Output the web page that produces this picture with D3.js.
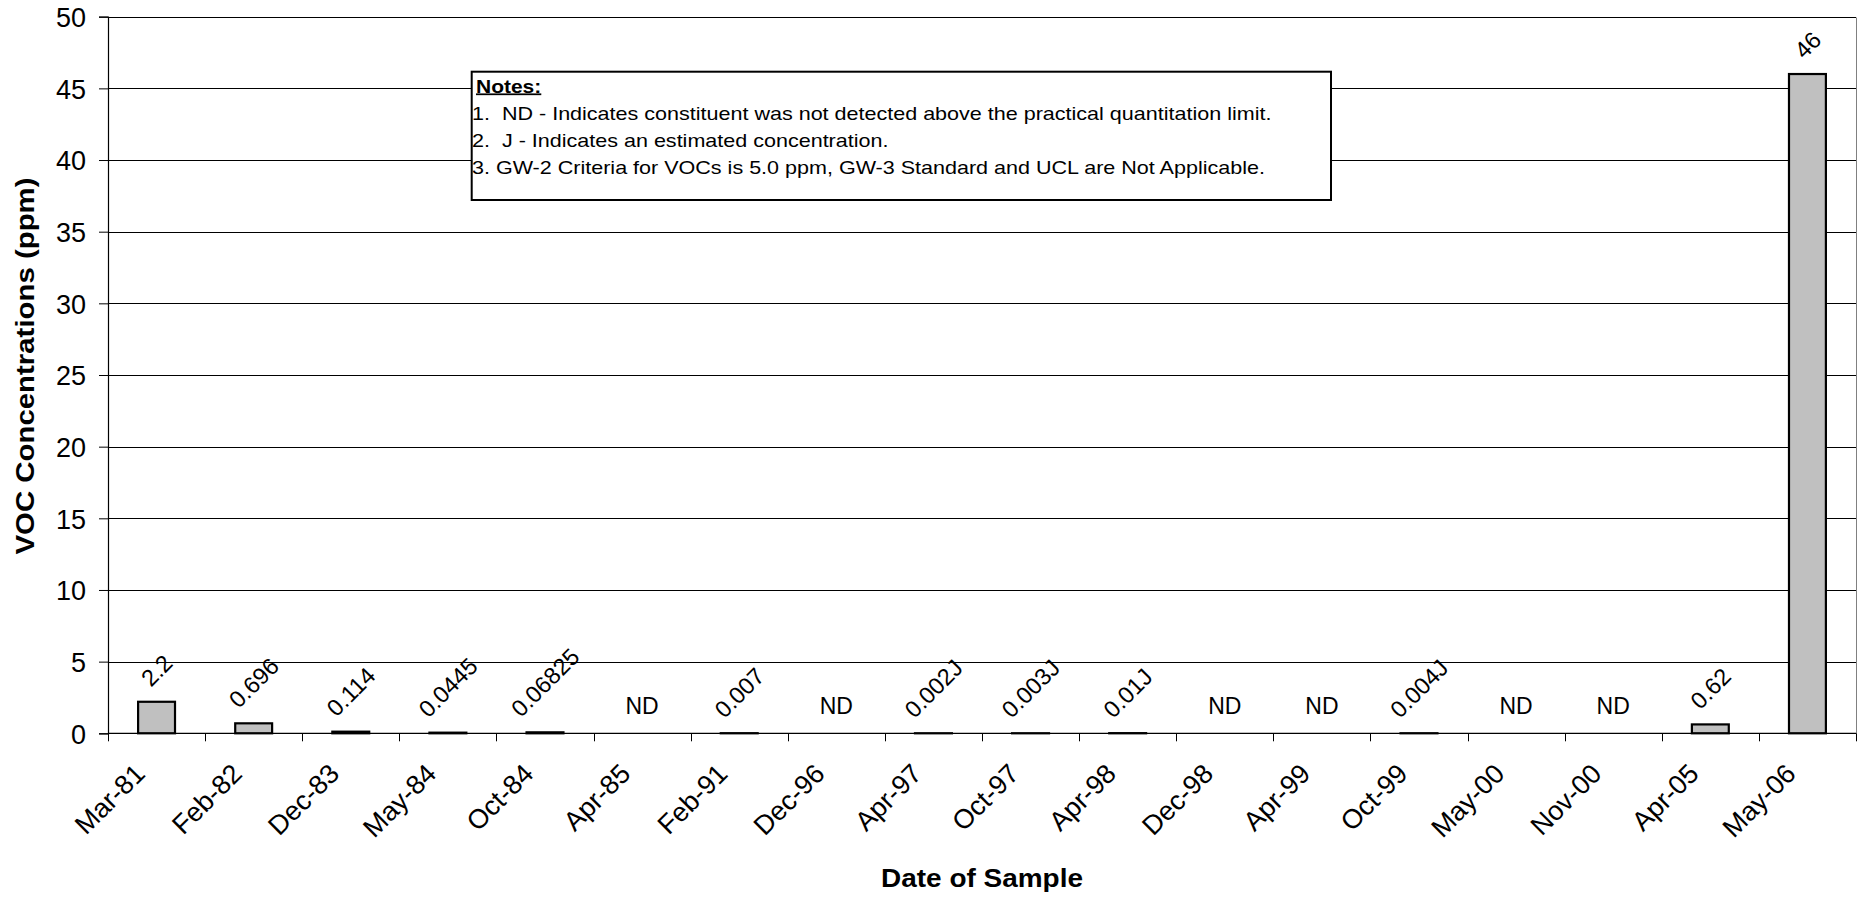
<!DOCTYPE html>
<html>
<head>
<meta charset="utf-8">
<script src="https://cdn.jsdelivr.net/npm/d3@7/dist/d3.min.js"></script>
<style>
  html, body { margin: 0; padding: 0; background: #fff; }
  svg { display: block; }
  text { font-family: "Liberation Sans", Arial, sans-serif; fill: #000; }
</style>
</head>
<body>
<svg id="chart" width="1862" height="897"></svg>
<script>
// ---- data ----
const categories = ["Mar-81","Feb-82","Dec-83","May-84","Oct-84","Apr-85","Feb-91","Dec-96","Apr-97","Oct-97","Apr-98","Dec-98","Apr-99","Oct-99","May-00","Nov-00","Apr-05","May-06"];
const values = [2.2, 0.696, 0.114, 0.0445, 0.06825, null, 0.007, null, 0.002, 0.003, 0.01, null, null, 0.004, null, null, 0.62, 46];
const valueLabels = ["2.2","0.696","0.114","0.0445","0.06825","ND","0.007","ND","0.002J","0.003J","0.01J","ND","ND","0.004J","ND","ND","0.62","46"];
const yTicks = [0,5,10,15,20,25,30,35,40,45,50];
const notes = [
  "1.  ND - Indicates constituent was not detected above the practical quantitation limit.",
  "2.  J - Indicates an estimated concentration.",
  "3. GW-2 Criteria for VOCs is 5.0 ppm, GW-3 Standard and UCL are Not Applicable."
];

// ---- layout ----
const pLeft = 108, pRight = 1856, pTop = 16.7, pBottom = 733.3;
const svg = d3.select("#chart");

const x = d3.scaleBand().domain(categories).range([pLeft, pRight]).padding(0);
const y = d3.scaleLinear().domain([0, 50]).range([pBottom, pTop]);

// gridlines
svg.append("g").selectAll("line").data(yTicks.filter(d => d > 0)).join("line")
  .attr("x1", pLeft).attr("x2", pRight)
  .attr("y1", d => Math.round(y(d)) + 0.5).attr("y2", d => Math.round(y(d)) + 0.5)
  .attr("stroke", "#000").attr("stroke-width", 1);

// right border of plot area
svg.append("line").attr("x1", pRight + 0.5).attr("x2", pRight + 0.5)
  .attr("y1", Math.round(pTop) + 0.5).attr("y2", Math.round(pBottom) + 0.5)
  .attr("stroke", "#808080").attr("stroke-width", 1);

// y axis
const yAxis = d3.axisLeft(y).tickValues(yTicks).tickSize(9).tickPadding(13).tickFormat(d3.format("d"));
const gy = svg.append("g").attr("transform", `translate(${pLeft},0)`).call(yAxis);
gy.select(".domain").attr("stroke", "#000").attr("stroke-width", 1.2);
gy.selectAll(".tick line").attr("stroke", "#000");
gy.selectAll(".tick text").attr("font-size", 27).attr("dy", "0.36em")
  .style("font-family", '"Liberation Sans", Arial, sans-serif');

// bars
const bw = x.bandwidth() * 0.38;
svg.append("g").selectAll("rect").data(values.map((v, i) => ({v, c: categories[i]})).filter(d => d.v !== null))
  .join("rect")
  .attr("x", d => x(d.c) + x.bandwidth() / 2 - bw / 2)
  .attr("y", d => y(d.v))
  .attr("width", bw)
  .attr("height", d => y(0) - y(d.v))
  .attr("fill", "#C0C0C0").attr("stroke", "#000").attr("stroke-width", 2.2);

// x axis line and ticks
svg.append("line").attr("x1", pLeft).attr("x2", pRight)
  .attr("y1", pBottom).attr("y2", pBottom).attr("stroke", "#000").attr("stroke-width", 1.2);
const bounds = categories.map(c => x(c)).concat([pRight]);
svg.append("g").selectAll("line").data(bounds).join("line")
  .attr("x1", d => Math.round(d) + 0.5).attr("x2", d => Math.round(d) + 0.5)
  .attr("y1", pBottom).attr("y2", pBottom + 8)
  .attr("stroke", "#000").attr("stroke-width", 1);

// x tick labels (rotated)
svg.append("g").selectAll("text").data(categories).join("text")
  .attr("transform", c => `translate(${x(c) + x.bandwidth() / 2 - 10},${pBottom + 42}) rotate(-45)`)
  .attr("text-anchor", "end")
  .attr("font-size", 27)
  .text(c => c);

// value labels
const lblG = svg.append("g");
values.forEach((v, i) => {
  const cx = x(categories[i]) + x.bandwidth() / 2;
  if (v === null) {
    lblG.append("text").attr("x", cx).attr("y", pBottom - 19.5)
      .attr("text-anchor", "middle").attr("font-size", 23).text(valueLabels[i]);
  } else {
    const t = lblG.append("text").attr("text-anchor", "middle").attr("font-size", 23.5)
      .attr("dy", "0.36em").text(valueLabels[i]);
    const L = t.node().getComputedTextLength();
    const h = 0.716 * 23.5;
    const bh = (L + h) / Math.SQRT2;
    const cy = y(v) - 1 - 13 - bh / 2;
    t.attr("transform", `translate(${cx},${cy}) rotate(-45)`);
  }
});

// axis titles
svg.append("text").attr("x", 982).attr("y", 887).attr("text-anchor", "middle")
  .attr("font-size", 26).attr("font-weight", "bold")
  .attr("textLength", 202).attr("lengthAdjust", "spacingAndGlyphs")
  .text("Date of Sample");
svg.append("text").attr("transform", "translate(33.5,366) rotate(-90)").attr("text-anchor", "middle")
  .attr("font-size", 26).attr("font-weight", "bold")
  .attr("textLength", 377).attr("lengthAdjust", "spacingAndGlyphs")
  .text("VOC Concentrations (ppm)");

// notes box
const bx = 471.7, by = 71.7, bxw = 1331 - 471.7, bxh = 200 - 71.7;
svg.append("rect").attr("x", bx).attr("y", by).attr("width", bxw).attr("height", bxh)
  .attr("fill", "#fff").attr("stroke", "#000").attr("stroke-width", 2);
const ng = svg.append("g");
ng.append("text").attr("transform", `translate(476,92.5) scale(1.2,1)`)
  .attr("font-size", 17.5).attr("font-weight", "bold")
  .style("text-decoration", "underline").text("Notes:");
const noteY = [119.5, 146.5, 173.5];
notes.forEach((n, i) => {
  ng.append("text").attr("transform", `translate(472,${noteY[i]}) scale(1.217,1)`)
    .attr("font-size", 17.7).attr("xml:space", "preserve").style("white-space", "pre").text(n);
});
</script>
</body>
</html>
